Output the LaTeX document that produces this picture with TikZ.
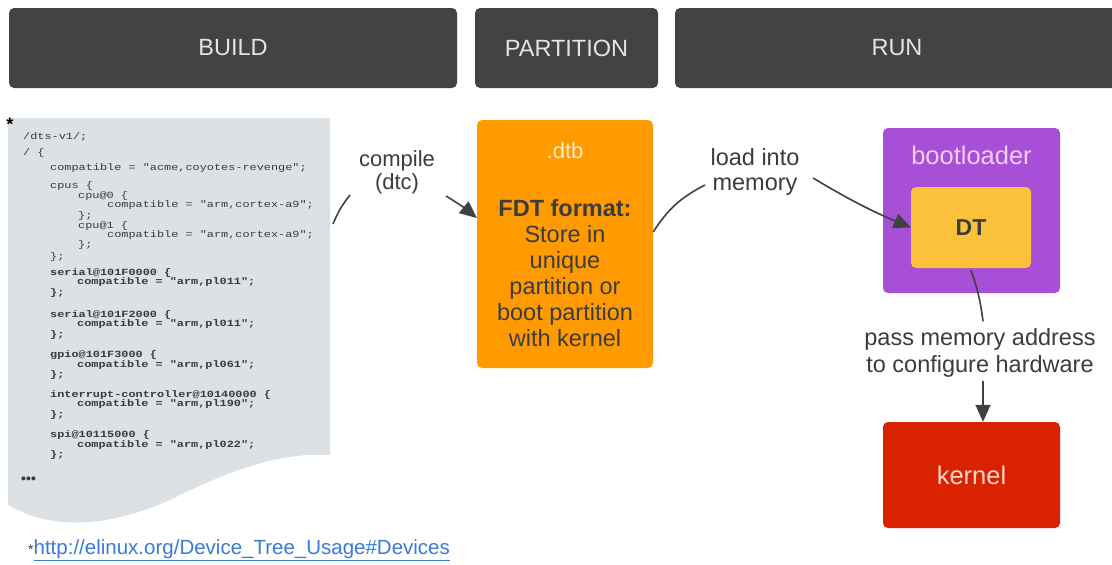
\documentclass[tikz,border=0pt]{standalone}
\usepackage{fontspec}
\setmainfont{Liberation Sans}
\newfontfamily\codefont[FakeStretch=1.25]{Liberation Mono}
\usetikzlibrary{arrows.meta}

\definecolor{hdrgray}{HTML}{434343}
\definecolor{hdrtext}{HTML}{E4E4E4}
\definecolor{panelbg}{HTML}{DCE1E5}
\definecolor{codetext}{HTML}{3A3A3A}
\definecolor{inktext}{HTML}{3C3C3C}
\definecolor{dtborange}{HTML}{FF9A00}
\definecolor{dtbtitle}{HTML}{FFEBD0}
\definecolor{blpurple}{HTML}{A84FD8}
\definecolor{bltitle}{HTML}{F3CDF6}
\definecolor{dtyellow}{HTML}{FCC13A}
\definecolor{kernred}{HTML}{D92300}
\definecolor{kerntext}{HTML}{FFD6CC}
\definecolor{linkblue}{HTML}{3B7BD6}
\definecolor{wire}{HTML}{404040}

\tikzset{
  hdrbox/.style={fill=hdrgray, rounded corners=5pt, inner sep=0pt,
    text=hdrtext, font=\fontsize{23.5}{26}\selectfont},
  box/.style={rounded corners=5pt, inner sep=0pt},
  codeline/.style={anchor=west, inner sep=0pt, text=codetext,
    font=\codefont\fontsize{9.5}{10}\selectfont},
  codebold/.style={codeline, font=\codefont\bfseries\fontsize{9.5}{10}\selectfont},
  note/.style={align=center, inner sep=0pt, text=inktext,
    font=\fontsize{23.5}{27}\selectfont},
  wireline/.style={draw=wire, line width=1.6pt},
  wirearrow/.style={wireline, -{Triangle[length=17pt,width=15pt]}},
}

\begin{document}
\begin{tikzpicture}[x=1pt,y=-1pt]
\useasboundingbox[fill=white] (0,0) rectangle (1112,565);

% phase headers
\node[hdrbox, minimum width=448pt, minimum height=80pt] (build) at (233,48) {BUILD};
\node[hdrbox, minimum width=183pt, minimum height=80pt] (part) at (566.5,48) {PARTITION};
\node[hdrbox, minimum width=444pt, minimum height=80pt] (run) at (897,48) {RUN};

% device tree source sheet with a wavy bottom edge
\fill[panelbg] (8,118) -- (330,118) -- (330,455)
  .. controls (280,452) and (230,470) .. (170,500)
  .. controls (120,522) and (60,535) .. (8,505) -- cycle;
\node[inner sep=0pt, text=black, font=\bfseries\fontsize{18}{18}\selectfont] (star) at (10,124) {*};

\node[codeline] (l1) at (23,137) {/dts-v1/;};
\node[codeline] (l2) at (23,153) {/ \{};
\node[codeline] (l3) at (50,168) {compatible = "acme,coyotes-revenge";};
\node[codeline] (l4) at (50,186) {cpus \{};
\node[codeline] (l5) at (78,196) {cpu@0 \{};
\node[codeline] (l6) at (107,205) {compatible = "arm,cortex-a9";};
\node[codeline] (l7) at (78,216) {\};};
\node[codeline] (l8) at (78,226) {cpu@1 \{};
\node[codeline] (l9) at (107,235) {compatible = "arm,cortex-a9";};
\node[codeline] (l10) at (78,245) {\};};
\node[codeline] (l11) at (50,257) {\};};
\node[codebold] (l12) at (50,273) {serial@101F0000 \{};
\node[codebold] (l13) at (77,282) {compatible = "arm,pl011";};
\node[codebold] (l14) at (50,293) {\};};
\node[codebold] (l15) at (50,315) {serial@101F2000 \{};
\node[codebold] (l16) at (77,324) {compatible = "arm,pl011";};
\node[codebold] (l17) at (50,335) {\};};
\node[codebold] (l18) at (50,355) {gpio@101F3000 \{};
\node[codebold] (l19) at (77,365) {compatible = "arm,pl061";};
\node[codebold] (l20) at (50,375) {\};};
\node[codebold] (l21) at (50,395) {interrupt-controller@10140000 \{};
\node[codebold] (l22) at (77,404) {compatible = "arm,pl190";};
\node[codebold] (l23) at (50,415) {\};};
\node[codebold] (l24) at (50,435) {spi@10115000 \{};
\node[codebold] (l25) at (77,445) {compatible = "arm,pl022";};
\node[codebold] (l26) at (50,455) {\};};
\node[codebold, font=\bfseries\fontsize{14}{14}\selectfont] (dots) at (21,480) {•••};

% .dtb image
\node[box, fill=dtborange, minimum width=176pt, minimum height=248pt] (dtb) at (565,244) {};
\node[inner sep=0pt, text=dtbtitle, font=\fontsize{22}{24}\selectfont] (dtbname) at (565,151) {.dtb};
\node[note, font=\fontsize{23.5}{26}\selectfont] (dtbtext) at (565,273)
  {\textbf{FDT format:}\\Store in\\unique\\partition or\\boot partition\\with kernel};

% bootloader holding the loaded tree
\node[box, fill=blpurple, minimum width=177pt, minimum height=165pt] (boot) at (971.5,210.5) {};
\node[inner sep=0pt, text=bltitle, font=\fontsize{25.5}{28}\selectfont] (bootname) at (971.5,155) {bootloader};
\node[box, fill=dtyellow, minimum width=120pt, minimum height=81pt,
  text=inktext, font=\bfseries\fontsize{23}{25}\selectfont] (dt) at (971,227.5) {DT};

% kernel
\node[box, fill=kernred, minimum width=177pt, minimum height=106pt,
  text=kerntext, font=\fontsize{25.5}{28}\selectfont] (kernel) at (971.5,475) {kernel};

% connector labels
\node[note, font=\fontsize{22}{23}\selectfont] (compile) at (397,172) {compile\\(dtc)};
\node[note, font=\fontsize{23.5}{25}\selectfont] (load) at (755,172) {load into\\memory};
\node[note] (pass) at (980,353) {pass memory address\\to configure hardware};

% connectors
\coordinate (srcout) at (333,224);
\coordinate (cmpin) at (350,195);
\coordinate (cmpout) at (446,196);
\coordinate (loadin) at (705,185);
\coordinate (loadout) at (813,178);
\draw[wireline] (srcout) to[bend left=8] (cmpin);
\draw[wirearrow] (cmpout) to[bend left=4] ([yshift=26pt]dtb.west);
\draw[wireline] ([yshift=12pt]dtb.east) to[bend left=15] (loadin);
\draw[wirearrow] (loadout) to[bend right=4] (dt.west);
\draw[wireline] ([yshift=-2pt]dt.south) to[bend left=6] ([xshift=3pt,yshift=7pt]pass.north);
\draw[wirearrow] ([xshift=3pt,yshift=-3pt]pass.south) -- ([xshift=3pt]pass.south |- kernel.north);

% reference link
\node[anchor=west, inner sep=0pt, font=\fontsize{20.5}{22}\selectfont] (ref) at (28,550)
  {\textcolor{inktext}{\fontsize{14}{14}\selectfont*}\textcolor{linkblue}{\underline{http://elinux.org/Device\_Tree\_Usage\#Devices}}};
\end{tikzpicture}
\end{document}
